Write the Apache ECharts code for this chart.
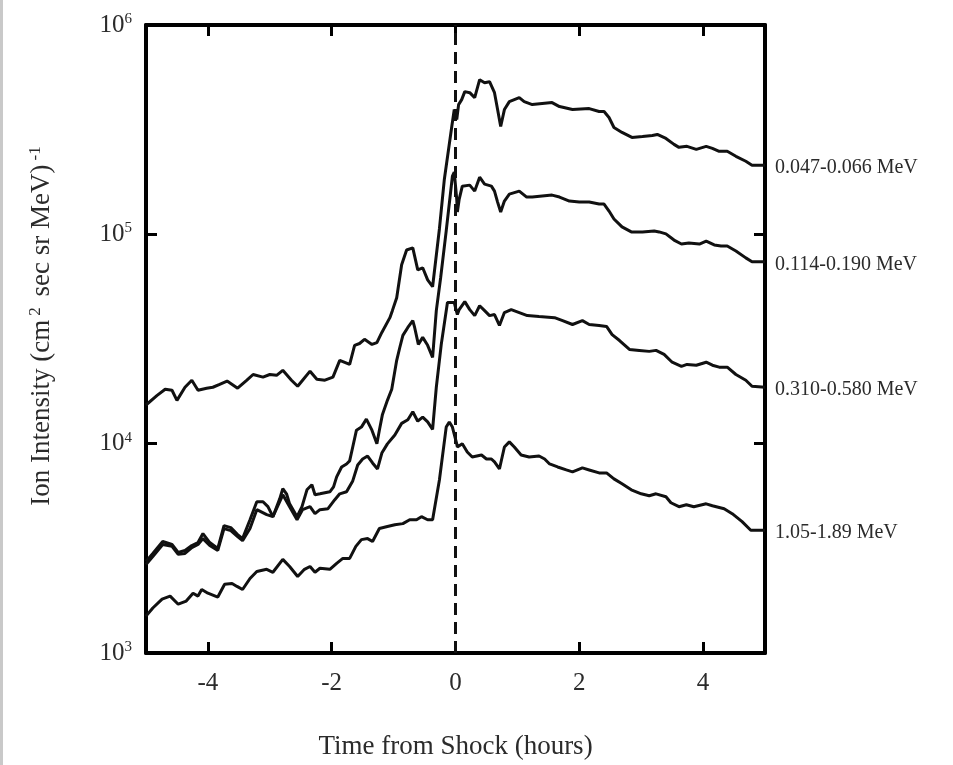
<!DOCTYPE html>
<html>
<head>
<meta charset="utf-8">
<script src="https://cdn.jsdelivr.net/npm/echarts@6/dist/echarts.min.js"></script>
<style>
    html, body {margin: 0; padding: 0; background: #fff;}
    #chart {width: 953px; height: 765px;}
</style>
</head>
<body>
<div id="chart"></div>
<script>
    // energy channels
    var channels = ['0.047-0.066 MeV', '0.114-0.190 MeV', '0.310-0.580 MeV', '1.05-1.89 MeV'];
    var xTicks = [-4, -2, 0, 2, 4];

    // 0.047-0.066 MeV
    var h1 = [-5.00,-4.82,-4.69,-4.58,-4.50,-4.37,-4.26,-4.16,-4.02,-3.92,-3.81,-3.69,-3.52,-3.37,-3.27,-3.11,-3.00,-2.89,-2.79,-2.65,-2.55,-2.47,-2.35,-2.24,-2.11,-1.98,-1.87,-1.71,-1.63,-1.55,-1.47,-1.35,-1.27,-1.19,-1.06,-1.02,-0.95,-0.87,-0.79,-0.69,-0.61,-0.53,-0.45,-0.37,-0.26,-0.18,-0.06,-0.02,0.02,0.05,0.10,0.15,0.23,0.31,0.39,0.47,0.55,0.63,0.68,0.73,0.79,0.87,1.03,1.11,1.24,1.56,1.68,1.89,2.16,2.32,2.40,2.48,2.56,2.69,2.85,3.02,3.18,3.26,3.40,3.53,3.61,3.74,3.89,4.05,4.15,4.26,4.39,4.53,4.69,4.79,5.00];
    var v1 = [15300,17000,18200,18000,16100,18600,20100,18000,18400,18600,19200,19900,18400,20100,21400,20800,21400,21200,22400,20100,18800,20100,22200,20300,20100,20800,25000,23900,29500,30100,31500,29800,30400,34000,40000,43200,49800,71500,84200,86100,67700,69200,60600,56200,106100,183400,327600,394500,353600,416700,440100,480400,475100,449900,547800,530100,536000,475100,394500,327600,394500,430600,449900,430600,416700,425900,407700,394500,398800,386000,386000,361400,324000,306800,290400,293600,296800,300100,287200,269000,260300,263200,254700,263200,257500,249200,249200,235900,223400,214000,214000];

    // 0.114-0.190 MeV
    var h2 = [-5.00,-4.89,-4.73,-4.58,-4.48,-4.37,-4.26,-4.16,-4.08,-3.97,-3.84,-3.74,-3.63,-3.52,-3.44,-3.32,-3.21,-3.11,-3.03,-2.95,-2.84,-2.79,-2.73,-2.68,-2.56,-2.48,-2.40,-2.32,-2.27,-2.19,-2.03,-1.97,-1.92,-1.84,-1.76,-1.71,-1.66,-1.60,-1.52,-1.44,-1.35,-1.27,-1.23,-1.18,-1.10,-1.03,-0.95,-0.90,-0.85,-0.77,-0.69,-0.66,-0.60,-0.53,-0.45,-0.37,-0.31,-0.24,-0.15,-0.05,-0.02,0.02,0.03,0.06,0.11,0.23,0.31,0.39,0.47,0.58,0.63,0.68,0.73,0.79,0.87,1.03,1.15,1.24,1.56,1.68,1.84,2.00,2.16,2.32,2.40,2.48,2.56,2.69,2.84,3.02,3.21,3.29,3.40,3.53,3.65,3.77,3.94,4.05,4.18,4.29,4.39,4.53,4.69,4.79,5.00];
    var v2 = [2740,2990,3410,3300,3020,3090,3260,3370,3720,3370,3160,4060,3970,3680,3520,4330,5280,5280,5000,4480,5450,6090,5760,5160,4480,5000,6020,6360,5700,5760,5890,6220,6940,7740,8000,8270,9640,11600,12000,13100,11600,9980,11600,13800,16100,18200,25000,28800,32900,35900,38700,35900,29800,32200,29500,25800,43200,62000,103800,189500,198000,147400,127800,147400,169900,171800,160900,187400,173700,169900,160800,142600,127800,144200,155700,160900,150700,150700,154000,150700,144200,142600,142600,139500,139500,129200,118400,108500,102700,102700,103800,102700,100500,93900,89900,90900,89900,92900,89000,88000,88000,83300,77200,74000,74000];

    // 0.310-0.580 MeV
    var h3 = [-5.00,-4.89,-4.73,-4.58,-4.48,-4.37,-4.26,-4.16,-4.08,-3.97,-3.84,-3.74,-3.63,-3.52,-3.44,-3.32,-3.21,-3.05,-2.95,-2.79,-2.68,-2.56,-2.47,-2.35,-2.27,-2.19,-2.06,-1.95,-1.87,-1.76,-1.66,-1.58,-1.50,-1.42,-1.34,-1.26,-1.19,-1.10,-0.98,-0.87,-0.77,-0.69,-0.61,-0.53,-0.45,-0.37,-0.31,-0.23,-0.13,-0.02,0.03,0.06,0.15,0.23,0.31,0.39,0.47,0.55,0.63,0.71,0.79,0.90,1.03,1.16,1.35,1.60,1.73,1.89,2.05,2.16,2.32,2.44,2.53,2.65,2.81,2.97,3.13,3.24,3.37,3.50,3.65,3.74,3.89,4.05,4.15,4.26,4.39,4.53,4.69,4.79,5.00];
    var v3 = [2650,2890,3300,3230,2960,2990,3190,3300,3520,3260,3090,3930,3840,3600,3440,3930,4840,4580,4480,5700,5000,4330,4840,5000,4630,4840,4890,5400,5760,5890,6640,7910,8450,8730,8090,7570,9020,9980,11000,12500,13000,14200,12800,13400,12700,11700,18600,29800,47200,47200,41400,43700,47700,43700,40900,45600,43200,40900,41400,36700,42300,43700,42300,40900,40500,40000,38700,37100,38700,37100,36700,36300,33200,31100,28200,27900,27600,27900,26700,24500,23400,23900,23700,24500,23700,23200,23200,21400,20100,18800,18600];

    // 1.05-1.89 MeV
    var h4 = [-5.00,-4.89,-4.74,-4.61,-4.48,-4.35,-4.24,-4.16,-4.10,-4.00,-3.84,-3.73,-3.61,-3.53,-3.44,-3.32,-3.21,-3.05,-2.95,-2.79,-2.68,-2.55,-2.44,-2.35,-2.27,-2.19,-2.03,-1.92,-1.82,-1.71,-1.61,-1.52,-1.42,-1.34,-1.23,-1.10,-0.98,-0.85,-0.74,-0.63,-0.55,-0.45,-0.37,-0.26,-0.15,-0.10,-0.05,0.02,0.03,0.11,0.19,0.27,0.42,0.50,0.58,0.63,0.71,0.79,0.87,0.95,1.06,1.19,1.35,1.44,1.52,1.65,1.79,1.89,2.05,2.16,2.32,2.44,2.56,2.69,2.84,3.00,3.13,3.24,3.40,3.48,3.61,3.73,3.85,4.05,4.15,4.34,4.47,4.63,4.77,5.00];
    var v4 = [1500,1640,1810,1870,1710,1770,1930,1870,2010,1930,1850,2130,2150,2080,2010,2270,2450,2510,2430,2800,2590,2320,2510,2590,2430,2540,2510,2680,2830,2830,3230,3480,3520,3410,3930,4020,4100,4150,4330,4330,4480,4330,4330,6710,12000,12700,12000,9980,9640,9980,9120,8640,8830,8450,8450,8180,7570,9640,10200,9640,8830,8640,8730,8450,8000,7740,7490,7330,7660,7490,7250,7250,6790,6430,6020,5760,5640,5760,5580,5220,5000,5110,5000,5160,5050,4890,4630,4240,3860,3860];

    var hours = [h1, h2, h3, h4];
    var values = [v1, v2, v3, v4];

    var serif = '"Liberation Serif", "DejaVu Serif", serif';
    var textColor = '#2b2b2b';

    function pairs(h, v) {
        var out = [];
        for (var i = 0; i < h.length; i++) {
            out.push([h[i], v[i]]);
        }
        return out;
    }

    var series = [];
    for (var i = 0; i < channels.length; i++) {
        var s = {
            name: channels[i],
            type: 'line',
            data: pairs(hours[i], values[i]),
            symbol: 'none',
            lineStyle: {color: '#111', width: 3},
            endLabel: {
                show: true,
                formatter: '{a}',
                distance: 10,
                offset: [0, 3],
                color: textColor,
                fontFamily: serif,
                fontSize: 20
            },
            z: 3
        };
        if (i === 0) {
            // shock time
            s.markLine = {
                silent: true,
                symbol: ['none', 'none'],
                label: {show: false},
                lineStyle: {color: '#111', width: 3, type: [12, 7]},
                data: [{xAxis: 0}]
            };
        }
        series.push(s);
    }

    var frame = {show: true, onZero: false, lineStyle: {color: '#000', width: 4}};
    var ticks = {show: true, inside: true, length: 11, lineStyle: {color: '#000', width: 3}};

    var chart = echarts.init(document.getElementById('chart'));
    chart.setOption({
        animation: false,
        backgroundColor: '#fff',
        grid: {left: 146, top: 25, right: 188, bottom: 109, containLabel: false},
        graphic: [{
            type: 'rect',
            left: 0,
            top: 0,
            shape: {width: 3, height: 765},
            style: {fill: '#c9c9c9'}
        }],
        xAxis: [{
            type: 'value',
            min: -5,
            max: 5,
            position: 'bottom',
            axisLine: frame,
            axisTick: Object.assign({customValues: xTicks}, ticks),
            axisLabel: {
                customValues: xTicks,
                margin: 18,
                color: textColor,
                fontFamily: serif,
                fontSize: 25
            },
            splitLine: {show: false},
            name: 'Time from Shock (hours)',
            nameLocation: 'middle',
            nameGap: 80,
            nameTextStyle: {color: textColor, fontFamily: serif, fontSize: 27}
        }, {
            type: 'value',
            min: -5,
            max: 5,
            position: 'top',
            axisLine: frame,
            axisTick: Object.assign({customValues: xTicks}, ticks),
            axisLabel: {show: false},
            splitLine: {show: false}
        }],
        yAxis: [{
            type: 'log',
            logBase: 10,
            min: 1000,
            max: 1000000,
            position: 'left',
            axisLine: frame,
            axisTick: ticks,
            minorTick: {show: false},
            axisLabel: {
                margin: 14,
                formatter: function (val) {
                    return '{b|10}{s|' + Math.round(Math.log10(val)) + '}';
                },
                rich: {
                    b: {color: textColor, fontFamily: serif, fontSize: 25},
                    s: {color: textColor, fontFamily: serif, fontSize: 15, verticalAlign: 'top', padding: [0, 0, 12, 0]}
                }
            },
            splitLine: {show: false},
            name: 'Ion Intensity (cm{s|2} sec sr MeV){s|-1}',
            nameLocation: 'middle',
            nameGap: 90,
            nameRotate: 90,
            nameTextStyle: {
                color: textColor,
                fontFamily: serif,
                fontSize: 27,
                padding: [0, 0, 0, 30],
                rich: {
                    s: {color: textColor, fontFamily: serif, fontSize: 17, verticalAlign: 'top', padding: [0, 4, 12, 4]}
                }
            }
        }, {
            type: 'log',
            logBase: 10,
            min: 1000,
            max: 1000000,
            position: 'right',
            axisLine: frame,
            axisTick: ticks,
            minorTick: {show: false},
            axisLabel: {show: false},
            splitLine: {show: false}
        }],
        series: series
    });
</script>
</body>
</html>
